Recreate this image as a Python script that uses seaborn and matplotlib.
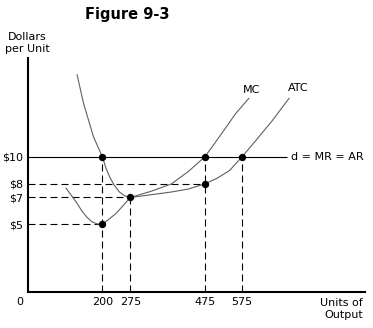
import numpy as np
import pandas as pd
import matplotlib
matplotlib.use("Agg")
import matplotlib.pyplot as plt
import seaborn as sns

# ---- data ----
price = 10
mc_x = [102, 118, 131, 145, 158, 172, 185, 200, 238, 275, 330, 385, 430, 475, 499, 524, 559, 594]
mc_y = [7.7, 7.1, 6.6, 6.0, 5.55, 5.2, 5.05, 5.0, 5.85, 7.0, 7.45, 8.0, 8.9, 10.0, 10.9, 11.87, 13.24, 14.35]
atc_x = [132, 149, 176, 200, 210, 220, 232, 246, 260, 275, 330, 384, 430, 475, 508, 542, 575, 612, 657, 702]
atc_y = [16.1, 14.0, 11.5, 10.0, 9.15, 8.5, 7.9, 7.4, 7.12, 7.0, 7.2, 7.4, 7.62, 8.0, 8.42, 9.0, 10.0, 11.2, 12.7, 14.35]
pts_x = [200, 200, 275, 475, 475, 575]
pts_y = [10, 5, 7, 10, 8, 10]
xticks = [200, 275, 475, 575]
yticks = [5, 7, 8, 10]
ytick_labels = ["$5", "$7", "$8", "$10"]

sns.set_theme(style="white")
plt.rcParams['font.family'] = ['DejaVu Sans']
plt.rcParams['text.color'] = 'black'
plt.rcParams['xtick.color'] = 'black'
plt.rcParams['ytick.color'] = 'black'

fig = plt.figure(figsize=(3.73, 3.28), dpi=100)
ax = fig.add_axes([28/373, 1-292/328, (365-28)/373, (292-58)/328])
ax.set_xlim(0, 906)
ax.set_ylim(0, 17.33)

# horizontal price line d = MR = AR
ax.plot([0, 696], [price, price], color="black", lw=0.8, solid_capstyle="butt")

dash = (0, (6.3, 3.6))
# horizontal dashed guides
for (x, y) in [(475, 8), (275, 7), (200, 5)]:
    ax.plot([0, x], [y, y], color="black", lw=0.8, linestyle=dash)
# vertical dashed guides
for (x, y) in [(200, 10), (275, 7), (475, 10), (575, 10)]:
    ax.plot([x, x], [0, y], color="black", lw=0.8, linestyle=dash)

mc = pd.DataFrame({"x": mc_x, "y": mc_y})
atc = pd.DataFrame({"x": atc_x, "y": atc_y})
sns.lineplot(data=mc, x="x", y="y", ax=ax, color="#606060", lw=0.8, sort=False)
sns.lineplot(data=atc, x="x", y="y", ax=ax, color="#606060", lw=0.8, sort=False)

pts = pd.DataFrame({"x": pts_x, "y": pts_y})
sns.scatterplot(data=pts, x="x", y="y", ax=ax, color="black", s=28, zorder=5, edgecolor="black", linewidth=0)

ax.text(602, 14.96, "MC", fontsize=8, ha="center", va="center")
ax.text(726, 15.1, "ATC", fontsize=8, ha="center", va="center")
ax.text(706, 10, "d = MR = AR", fontsize=8, ha="left", va="center")

for s in ["top", "right"]:
    ax.spines[s].set_visible(False)
for s in ["left", "bottom"]:
    ax.spines[s].set_color("black")
    ax.spines[s].set_linewidth(1.5)

ax.set_xticks(xticks)
ax.set_xticklabels([str(v) for v in xticks], fontsize=8)
ax.set_yticks(yticks)
ax.set_yticklabels(ytick_labels, fontsize=8)
ax.tick_params(axis="both", length=0, pad=3.5, colors="black")
ax.set_xlabel("")
ax.set_ylabel("")

fig.text(20/373, 1-302/328, "0", fontsize=8, ha="center", va="center")
fig.text(127/373, 1-15/328, "Figure 9-3", fontsize=10.5, fontweight="bold", ha="center", va="center")
fig.text(27/373, 1-43/328, "Dollars\nper Unit", fontsize=8, ha="center", va="center", linespacing=1.25)
fig.text(363/373, 1-309/328, "Units of\nOutput", fontsize=8, ha="right", va="center",
         multialignment="right", linespacing=1.25)

fig.savefig("out.png", dpi=100)
